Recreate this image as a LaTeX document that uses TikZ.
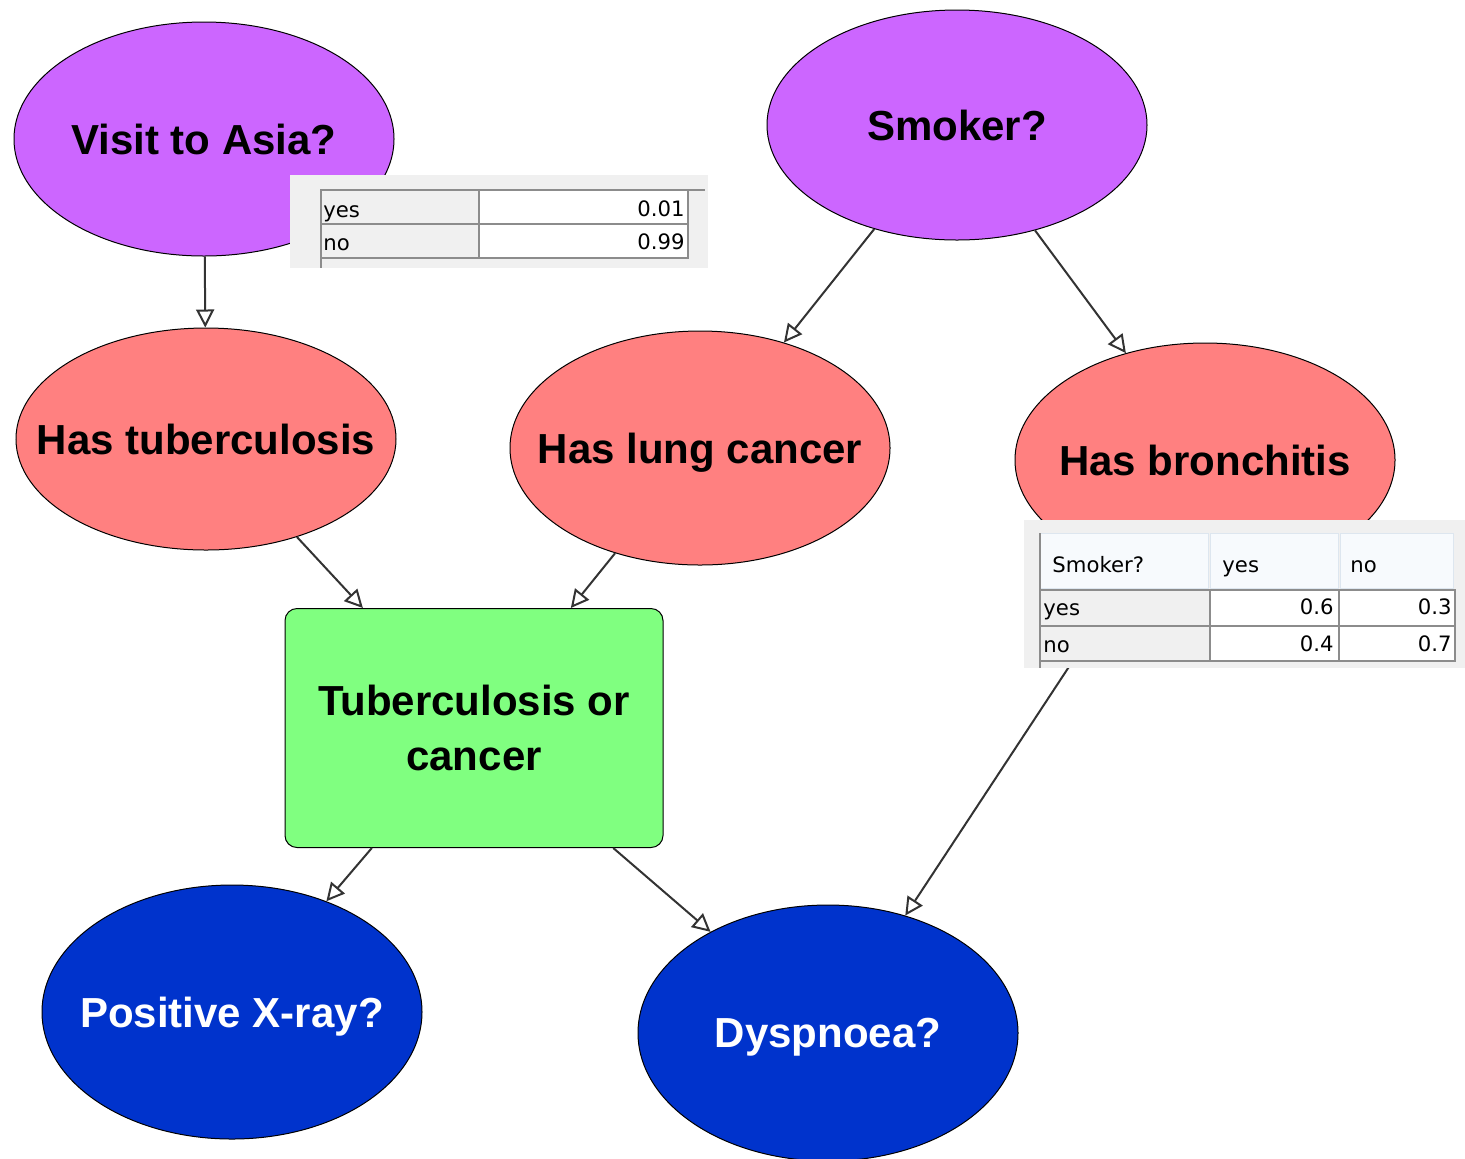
\documentclass[tikz,border=0pt]{standalone}
\usepackage{fontspec}
\setmainfont{Liberation Sans}
\newfontfamily\tabfont{DejaVu Sans}
\usetikzlibrary{arrows.meta,shapes.geometric}
\definecolor{rootpurple}{HTML}{CC66FF}
\definecolor{diseasered}{HTML}{FF8080}
\definecolor{mixgreen}{HTML}{80FF80}
\definecolor{symptblue}{HTML}{0033CC}
\definecolor{edgegray}{HTML}{333333}
\definecolor{panelgray}{HTML}{F0F0F0}
\definecolor{gridgray}{HTML}{8C8C8C}
\definecolor{headfill}{HTML}{F7FAFD}
\definecolor{headline}{HTML}{DDE6EF}

\begin{document}
\begin{tikzpicture}[x=0.5pt,y=-0.5pt,>={Triangle[open,length=9pt,width=9pt]},
  var/.style={ellipse,draw=black,line width=0.5pt,minimum width=190pt,
    minimum height=117pt,inner ysep=0pt,inner xsep=-20pt,text depth=0pt,
    font=\fontsize{21}{27.5}\selectfont\bfseries},
  gate/.style={rectangle,rounded corners=6pt,draw=black,line width=0.5pt,
    fill=mixgreen,minimum width=189pt,minimum height=119.5pt,align=center,
    font=\fontsize{21}{27.5}\selectfont\bfseries},
  a/.style={->,line width=1pt,edgegray},
  cellt/.style={inner sep=0pt,font=\tabfont\fontsize{10.6}{12}\selectfont},
  cell/.style={draw=gridgray,line width=0.8pt}]
\useasboundingbox (0,0) rectangle (1465,1158);

% variables
\node[var,fill=rootpurple] (asia) at (204,139) {Visit to Asia?};
\node[var,fill=rootpurple,minimum height=115pt] (smoke) at (957,125) {Smoker?};
\node[var,fill=diseasered,minimum height=111pt] (tub) at (206,439) {Has tuberculosis};
\node[var,fill=diseasered] (lung) at (700,448) {Has lung cancer};
\node[var,fill=diseasered] (bron) at (1205,460) {Has bronchitis};
\node[gate] (either) at (474,728) {Tuberculosis or\\cancer};
\node[var,fill=symptblue,text=white,minimum height=127pt] (xray) at (232,1012) {Positive X-ray?};
\node[var,fill=symptblue,text=white,minimum height=128pt] (dysp) at (828,1033) {Dyspnoea?};

% links
\draw[a] (asia)--(tub);
\draw[a] (smoke)--(lung); \draw[a] (smoke)--(bron);
\draw[a] (tub)--(either); \draw[a] (lung)--(either);
\draw[a] (either)--(xray); \draw[a] (either)--(dysp);
\draw[a] (bron)--(dysp);

% table for Visit to Asia?
\fill[panelgray] (290,175) rectangle (708,268);
\draw[cell,fill=panelgray] (321,190) rectangle (479,224);
\draw[cell,fill=white] (479,190) rectangle (688,224);
\draw[cell,fill=panelgray] (321,224) rectangle (479,258);
\draw[cell,fill=white] (479,224) rectangle (688,258);
\draw[cell] (321,258)--(321,268);
\draw[cell] (688,190)--(705,190);
\node[cellt,anchor=base west] (asiayes) at (323,217) {yes};
\node[cellt,anchor=base east] (asiap1) at (685,216) {0.01};
\node[cellt,anchor=base west] (asiano) at (323,250) {no};
\node[cellt,anchor=base east] (asiap2) at (685,249) {0.99};

% table for Has bronchitis
\fill[panelgray] (1024,520) rectangle (1465,668);
\draw[headline,fill=headfill] (1040,533) rectangle (1208,588);
\draw[headline,fill=headfill] (1210,533) rectangle (1338,588);
\draw[headline,fill=headfill] (1340,533) rectangle (1453,588);
\draw[cell] (1040,533)--(1040,668);
\draw[cell,fill=panelgray] (1040,590) rectangle (1210,626);
\draw[cell,fill=white] (1210,590) rectangle (1339,626);
\draw[cell,fill=white] (1339,590) rectangle (1455,626);
\draw[cell,fill=panelgray] (1040,626) rectangle (1210,661);
\draw[cell,fill=white] (1210,626) rectangle (1339,661);
\draw[cell,fill=white] (1339,626) rectangle (1455,661);
\node[cellt,anchor=base west] (bhead) at (1052,572) {Smoker?};
\node[cellt,anchor=base west] (bhyes) at (1222,572) {yes};
\node[cellt,anchor=base west] (bhno) at (1350,572) {no};
\node[cellt,anchor=base west] (byes) at (1043,615) {yes};
\node[cellt,anchor=base west] (bno) at (1043,652) {no};
\node[cellt,anchor=base east] (bp1) at (1334,614) {0.6};
\node[cellt,anchor=base east] (bp2) at (1452,614) {0.3};
\node[cellt,anchor=base east] (bp3) at (1334,651) {0.4};
\node[cellt,anchor=base east] (bp4) at (1452,651) {0.7};
\end{tikzpicture}
\end{document}
